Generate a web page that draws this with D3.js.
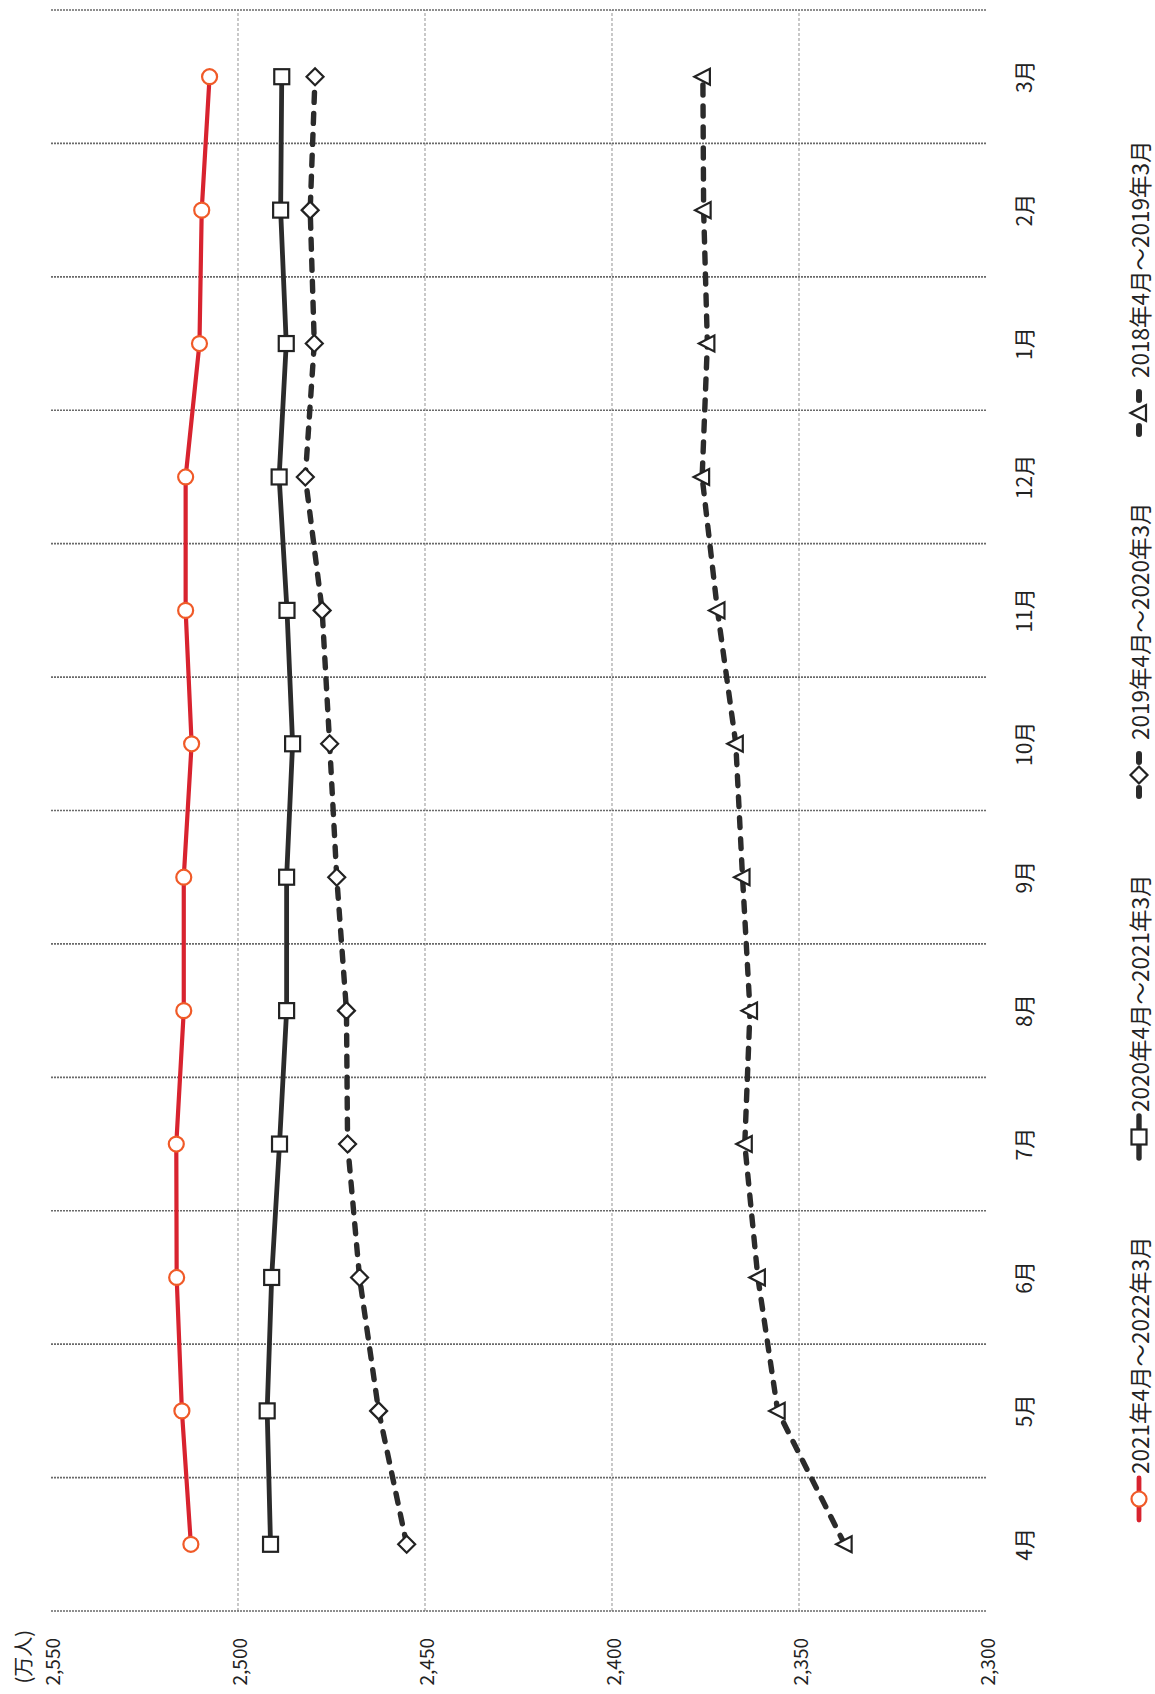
<!DOCTYPE html>
<html><head><meta charset="utf-8">
<script src="https://cdn.jsdelivr.net/npm/d3@7"></script>
<style>html,body{margin:0;padding:0;background:#fff;}svg{display:block;}</style>
</head><body>
<svg id="c" width="1155" height="1694"></svg>
<script>
// ---- data ----
const months = ["4月","5月","6月","7月","8月","9月","10月","11月","12月","1月","2月","3月"];
const valueTicks = [2300, 2350, 2400, 2450, 2500, 2550];
const seriesNames = ["2021年4月～2022年3月","2020年4月～2021年3月","2019年4月～2020年3月","2018年4月～2019年3月"];
const s2021 = [2512.6, 2515.0, 2516.4, 2516.5, 2514.5, 2514.5, 2512.4, 2514.0, 2514.0, 2510.3, 2509.7, 2507.6];
const s2020 = [2491.3, 2492.2, 2491.0, 2488.9, 2487.0, 2487.0, 2485.4, 2486.9, 2489.0, 2487.1, 2488.6, 2488.3];
const s2019 = [2454.9, 2462.4, 2467.5, 2470.7, 2471.0, 2473.6, 2475.5, 2477.5, 2482.0, 2479.6, 2480.7, 2479.4];
const s2018 = [2337.8, 2355.7, 2361.0, 2364.5, 2363.1, 2365.1, 2366.9, 2371.8, 2375.9, 2374.5, 2375.5, 2375.7];
const unitLabel = "(万人)";

// ---- styles ----
const FONT = "'Noto Sans CJK JP', 'Noto Sans', sans-serif";
const styles = [
  {values: s2021, color: "#d8232f", width: 4.2, dash: null, marker: "circle", mstroke: "#f05a28"},
  {values: s2020, color: "#2b2b2b", width: 4.8, dash: null, marker: "square", mstroke: "#222"},
  {values: s2019, color: "#2b2b2b", width: 5.4, dash: "10,11", marker: "diamond", mstroke: "#222"},
  {values: s2018, color: "#2b2b2b", width: 5.4, dash: "10,11", marker: "triangle", mstroke: "#222"}
];

const svg = d3.select("#c");
// whole chart drawn unrotated then rotated 90° counter-clockwise (scanned page)
const W = 1694, H = 1155;
const g = svg.append("g").attr("transform", `translate(0,${W}) rotate(-90)`);

const x = d3.scaleBand().domain(months).range([83, 1684]).paddingInner(0).paddingOuter(0);
const bw = x.bandwidth();
const y = d3.scaleLinear().domain([2300, 2550]).range([986, 51]);

// value gridlines
g.append("g").selectAll("line").data(valueTicks.filter(v => v > 2300 && v < 2550)).join("line")
  .attr("x1", 83).attr("x2", 1684)
  .attr("y1", d => y(d)).attr("y2", d => y(d))
  .attr("stroke", "#a5a5a5").attr("stroke-width", 1.2).attr("stroke-dasharray", "3,2");

// category gridlines (band boundaries)
const bounds = months.map(m => x(m)).concat([x.range()[1]]);
g.append("g").selectAll("line").data(bounds).join("line")
  .attr("x1", d => d).attr("x2", d => d)
  .attr("y1", y(2550)).attr("y2", y(2300))
  .attr("stroke", "#6a6a6a").attr("stroke-width", 1.6).attr("stroke-dasharray", "2,1");

// value axis labels
const fmt = d3.format(",");
g.append("g").selectAll("text").data(valueTicks).join("text")
  .attr("x", 56).attr("y", d => y(d))
  .attr("text-anchor", "end").attr("dominant-baseline", "central")
  .attr("font-family", FONT).attr("font-size", 19).attr("fill", "#222")
  .text(d => fmt(d));

g.append("text").attr("x", 64).attr("y", 22)
  .attr("text-anchor", "end").attr("dominant-baseline", "central")
  .attr("font-family", FONT).attr("font-size", 20).attr("fill", "#222")
  .text(unitLabel);

// month labels
g.append("g").selectAll("text").data(months).join("text")
  .attr("x", d => x(d) + bw / 2).attr("y", 1023)
  .attr("text-anchor", "middle").attr("dominant-baseline", "central")
  .attr("font-family", FONT).attr("font-size", 21).attr("fill", "#222")
  .text(d => d);

// markers
function drawMarker(sel, type, cx, cy, stroke) {
  const s = 7.5;
  let el;
  if (type === "circle") {
    el = sel.append("circle").attr("cx", cx).attr("cy", cy).attr("r", 7.5);
  } else if (type === "square") {
    el = sel.append("rect").attr("x", cx - s).attr("y", cy - s).attr("width", 2 * s).attr("height", 2 * s);
  } else if (type === "diamond") {
    const r = 8.5;
    el = sel.append("path").attr("d", `M${cx},${cy - r}L${cx + r},${cy}L${cx},${cy + r}L${cx - r},${cy}Z`);
  } else {
    el = sel.append("path").attr("d", `M${cx},${cy - 8.5}L${cx + 8},${cy + 7}L${cx - 8},${cy + 7}Z`);
  }
  el.attr("fill", "#fff").attr("stroke", stroke).attr("stroke-width", 2.2);
}

const line = d3.line().x((d, i) => x(months[i]) + bw / 2).y(d => y(d));
styles.slice().reverse().forEach(st => {
  const gs = g.append("g");
  gs.append("path").attr("d", line(st.values))
    .attr("fill", "none").attr("stroke", st.color).attr("stroke-width", st.width)
    .attr("stroke-linecap", "round").attr("stroke-linejoin", "round")
    .attr("stroke-dasharray", st.dash);
  st.values.forEach((v, i) => drawMarker(gs, st.marker, x(months[i]) + bw / 2, y(v), st.mstroke));
});

// legend
const lg = g.append("g");
styles.forEach((st, i) => {
  const s = 174 + i * 362, ly = 1139;
  lg.append("line").attr("x1", s).attr("x2", s + 42).attr("y1", ly).attr("y2", ly)
    .attr("stroke", st.color).attr("stroke-width", st.width + 0.6).attr("stroke-linecap", "round")
    .attr("stroke-dasharray", st.dash ? "8,26" : null);
  drawMarker(lg, st.marker, s + 21, ly, st.mstroke);
  lg.append("text").attr("x", s + (st.dash ? 56 : 46)).attr("y", ly)
    .attr("dominant-baseline", "central")
    .attr("font-family", FONT).attr("font-size", 22.5).attr("fill", "#222")
    .text(seriesNames[i]);
});
</script>
</body></html>
